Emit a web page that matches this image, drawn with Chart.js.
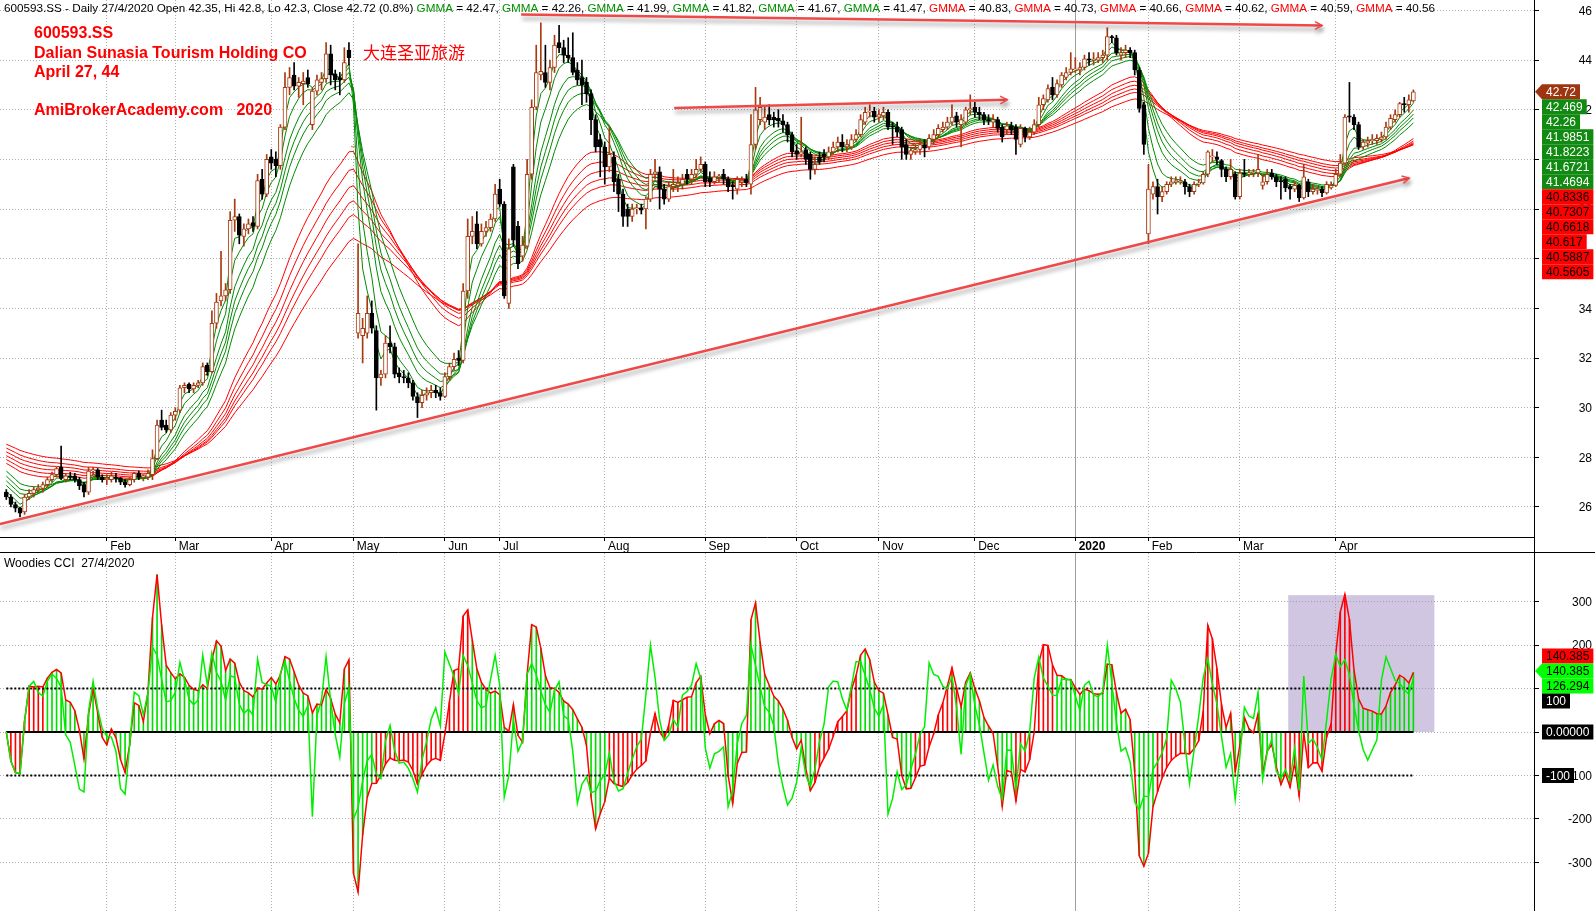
<!DOCTYPE html>
<html>
<head>
<meta charset="utf-8">
<script src="https://cdn.jsdelivr.net/npm/chart.js@4.4.1/dist/chart.umd.min.js"></script>
<style>
  body { margin: 0; background: #fff; }
  canvas { display: block; }
</style>
</head>
<body>
<canvas id="price" width="1595" height="553"></canvas>
<canvas id="cci" width="1595" height="358"></canvas>
<script>
// 600593.SS daily bars, Jan 2019 .. 27 Apr 2020
var opens = [
  26.6,26.4,26.1,25.95,25.8,26.4,26.55,26.7,26.75,26.9,27.1,27.3,27.6,27.1,27.25,27.25,27.1,26.9,26.6,27.45,27.5,27.2,
  27.1,27.1,27.2,27.15,27.0,26.9,27.1,27.35,27.2,27.2,27.3,27.95,29.5,29.3,29.1,
  29.7,29.9,30.8,30.95,30.75,30.9,31.0,31.7,31.45,33.4,34.3,34.5,34.75,37.55,37.7,36.9,37.2,37.45,37.3,39.2,38.6,
  40.1,40.0,39.75,41.3,42.9,43.4,42.95,43.05,43.3,41.4,42.75,43.1,43.25,44.25,43.45,43.3,43.2,44.4,
  40.5,33.0,32.9,33.0,33.8,33.1,31.2,31.35,32.6,32.45,31.4,31.25,31.2,31.0,30.45,30.2,30.5,30.6,30.7,30.6,
  30.45,31.25,31.65,32.0,31.9,34.7,36.9,37.4,36.6,37.1,37.25,37.6,
  38.8,38.2,34.2,39.7,37.3,36.1,36.5,39.4,42.1,43.4,43.5,43.1,43.7,44.7,44.5,44.2,44.1,43.6,43.3,43.1,42.65,41.6,40.8,
  40.5,39.7,40.1,39.2,38.6,38.0,37.7,38.0,38.05,38.0,38.4,39.4,39.5,38.8,38.4,38.9,38.95,39.0,39.4,39.2,39.4,39.6,
  39.8,39.25,39.1,39.3,39.4,39.2,38.95,38.8,39.1,39.2,39.0,40.6,41.6,41.5,41.8,41.7,41.65,41.55,41.4,41.0,
  40.35,40.2,40.4,40.2,39.6,40.1,40.2,40.1,40.3,40.5,40.7,40.5,40.5,40.8,41.0,41.5,41.9,41.95,
  41.7,41.75,41.9,41.35,41.3,41.2,40.6,40.2,40.3,40.4,40.6,40.5,40.8,41.0,41.2,41.3,41.5,41.75,41.4,41.5,42.0,
  42.1,41.9,41.8,41.6,41.5,41.6,41.3,41.2,41.35,41.3,40.6,41.25,40.9,41.1,41.4,42.2,42.4,42.9,42.6,43.0,43.3,43.5,
  43.6,43.6,43.7,44.05,44.0,44.0,44.1,44.2,44.95,44.9,44.2,44.3,44.4,44.3,43.6,42.2,
  37.0,38.6,38.9,38.5,38.7,39.0,39.1,39.1,39.1,38.9,38.7,39.0,39.05,39.4,40.1,40.1,39.95,39.6,39.3,39.4,
  38.5,39.45,39.4,39.45,39.45,38.95,39.1,39.45,39.3,39.15,39.2,38.9,38.8,38.95,38.45,39.1,38.7,38.75,38.8,38.65,38.85,
  38.95,39.4,39.85,41.75,41.7,41.4,40.5,40.65,40.75,40.75,40.8,40.9,41.3,41.6,41.8,42.25,42.2,42.35
];
var highs = [
  26.7,26.5,26.2,26.0,26.5,26.7,26.8,26.9,27.0,27.2,27.4,27.6,28.45,27.35,27.4,27.35,27.2,27.0,27.6,27.6,27.55,27.3,
  27.3,27.4,27.35,27.2,27.1,27.2,27.4,27.45,27.3,27.5,28.3,29.5,29.9,29.5,29.8,
  30.0,30.9,31.0,31.0,31.0,31.1,31.8,31.8,33.9,34.6,36.3,35.0,37.9,38.4,37.8,37.4,37.6,37.7,39.4,39.6,40.2,
  40.4,40.3,41.4,43.5,43.7,43.9,43.3,43.5,43.6,42.9,43.4,43.5,44.7,44.6,43.6,43.5,44.5,44.7,
  40.5,36.6,33.6,34.5,34.3,33.3,31.5,32.9,33.3,32.6,31.6,31.5,31.4,31.1,30.6,30.7,30.8,30.9,30.9,30.8,
  31.4,31.8,32.2,32.3,35.0,37.6,37.7,37.9,37.4,37.5,37.8,39.0,
  39.2,38.3,36.8,39.8,37.5,36.9,40.0,42.4,44.6,45.5,44.6,44.0,45.0,45.4,44.8,44.9,45.1,43.9,44.0,43.3,42.8,41.8,41.0,
  40.7,41.3,40.3,39.4,38.8,38.2,38.2,38.2,38.2,38.5,39.6,40.0,39.7,39.0,39.1,39.6,39.3,39.4,39.6,39.6,40.0,40.1,
  39.9,39.5,39.5,39.4,39.6,39.3,39.1,39.3,39.3,39.4,41.8,42.9,42.5,42.1,42.2,41.9,42.0,41.8,41.5,41.1,
  40.6,41.7,40.5,40.3,40.1,40.3,40.4,40.5,40.7,40.9,41.0,40.8,41.0,41.2,41.8,42.1,42.2,42.1,
  42.0,42.1,42.0,41.5,41.5,41.3,40.8,40.5,40.6,40.8,40.8,41.0,41.2,41.4,41.5,41.7,42.2,41.9,41.8,42.1,42.6,
  42.3,42.1,41.9,41.8,41.8,41.7,41.4,41.5,41.5,41.4,41.4,41.3,41.3,41.6,42.5,42.6,43.0,43.3,43.2,43.5,43.7,44.3,
  44.1,43.9,44.2,44.3,44.3,44.3,44.4,45.3,45.0,45.0,44.5,44.6,44.5,44.4,43.7,42.3,
  39.8,39.1,39.2,38.9,39.1,39.3,39.3,39.3,39.2,39.0,39.1,39.2,39.5,40.35,40.4,40.3,40.0,39.7,40.0,39.5,
  39.6,40.0,39.6,39.6,40.2,39.4,39.6,39.6,39.4,39.3,39.3,39.0,39.1,39.0,39.8,39.2,39.0,38.9,38.9,39.1,39.1,
  39.6,40.2,41.8,43.1,41.8,41.5,40.8,40.9,41.0,41.0,41.1,41.5,41.8,42.0,42.3,42.5,42.6,42.8
];
var lows = [
  26.3,26.0,25.8,25.6,25.7,26.3,26.4,26.6,26.6,26.8,27.0,27.2,27.1,27.0,27.1,27.0,26.7,26.4,26.5,27.3,27.1,27.0,
  26.9,27.0,27.0,26.9,26.8,26.85,27.0,27.1,27.05,27.1,27.1,27.9,29.1,29.0,29.0,
  29.5,29.8,30.6,30.6,30.6,30.8,30.9,31.3,31.4,33.2,34.1,34.3,34.6,37.1,36.6,36.5,37.0,37.1,37.2,38.4,38.5,
  39.6,39.3,39.6,41.2,42.6,42.8,42.5,42.2,42.9,41.2,42.6,42.8,43.1,43.0,42.8,42.6,43.1,43.8,
  40.5,32.8,31.8,32.8,33.0,29.9,30.9,31.2,32.2,31.2,31.0,31.0,30.8,30.3,29.6,30.0,30.3,30.4,30.4,30.3,
  30.4,31.1,31.5,31.7,31.8,34.4,36.6,36.4,36.5,36.9,37.1,37.5,
  38.1,34.4,34.0,36.5,35.6,35.9,36.4,39.2,42.0,43.2,42.9,42.8,43.5,44.3,43.9,43.9,43.4,43.0,42.2,42.3,41.0,40.3,39.3,
  39.0,39.5,38.7,37.9,37.3,37.3,37.5,37.8,37.8,37.2,38.3,39.2,38.0,38.2,38.3,38.7,38.7,38.8,39.0,39.0,39.3,39.5,
  38.9,38.9,39.0,39.1,39.0,38.7,38.4,38.6,38.9,38.9,38.6,40.4,41.4,41.2,41.4,41.3,41.3,41.1,40.7,40.1,
  40.0,40.1,39.8,39.2,39.4,39.8,39.9,40.0,40.2,40.3,40.3,40.3,40.4,40.7,40.9,41.4,41.7,41.5,
  41.5,41.6,41.2,40.6,40.9,40.0,40.0,40.0,40.2,40.2,40.1,40.4,40.6,40.9,41.1,41.2,41.4,41.3,40.5,41.4,41.8,
  41.7,41.6,41.4,41.4,41.3,41.1,40.7,41.0,41.0,40.2,40.5,40.7,40.8,41.0,41.3,42.0,42.3,42.4,42.5,42.9,43.2,43.4,
  43.5,43.4,43.6,43.8,43.8,43.9,43.9,44.0,44.7,44.2,44.0,44.1,44.1,43.4,41.9,40.2,
  36.6,38.4,37.8,38.3,38.6,38.9,39.0,39.0,38.6,38.5,38.6,38.9,39.0,39.3,39.9,39.8,39.3,39.1,39.2,38.4,
  38.4,39.3,39.3,39.3,39.3,38.8,39.0,39.2,38.9,38.4,38.7,38.4,38.7,38.3,38.4,38.5,38.6,38.6,38.5,38.6,38.8,
  38.9,39.3,39.8,41.5,41.2,40.4,40.4,40.5,40.6,40.6,40.7,40.8,41.2,41.5,41.7,41.9,41.9,42.3
];
var closes = [
  26.4,26.1,25.95,25.75,26.4,26.55,26.7,26.75,26.9,27.1,27.3,27.55,27.15,27.25,27.2,27.1,26.85,26.6,27.45,27.5,27.2,27.1,
  27.15,27.25,27.15,27.0,26.9,27.1,27.35,27.2,27.2,27.35,27.95,29.3,29.2,29.1,29.7,
  29.85,30.8,30.9,30.75,30.9,31.0,31.65,31.45,33.4,34.25,34.5,34.75,37.55,37.7,36.95,37.2,37.4,37.3,39.15,38.6,40.0,
  39.85,39.75,41.3,42.9,43.3,42.95,43.1,43.15,43.05,42.75,43.2,43.25,44.25,43.4,43.2,43.2,43.9,44.1,
  40.5,33.8,33.2,33.8,33.2,31.2,31.35,32.6,32.45,31.35,31.25,31.2,31.0,30.45,30.2,30.5,30.6,30.7,30.6,30.45,
  31.25,31.65,31.95,31.9,34.7,36.9,37.1,36.6,37.1,37.25,37.6,38.6,
  38.2,34.5,36.4,36.75,35.8,36.55,39.4,42.1,43.5,43.55,43.1,43.7,44.6,44.5,44.2,44.1,43.5,43.2,43.0,42.65,41.6,40.5,40.5,
  39.7,40.2,39.1,38.6,37.7,37.7,38.0,38.05,37.95,38.4,39.4,39.5,38.8,38.4,38.9,39.0,39.05,39.2,39.2,39.4,39.6,39.8,
  39.1,39.1,39.3,39.3,39.2,38.9,38.9,39.2,39.15,39.05,40.6,42.0,42.1,41.7,41.6,41.6,41.55,41.4,41.0,40.3,
  40.2,40.3,40.0,39.6,39.8,39.9,40.1,40.3,40.5,40.7,40.5,40.6,40.8,41.0,41.6,41.9,41.95,41.7,
  41.8,41.9,41.3,41.3,41.1,40.5,40.2,40.35,40.4,40.6,40.45,40.85,41.0,41.25,41.3,41.5,41.7,41.5,41.6,42.0,42.05,
  41.9,41.8,41.6,41.55,41.6,41.25,40.9,41.35,41.2,40.8,41.25,40.9,41.1,41.4,42.2,42.45,42.85,42.6,43.05,43.4,43.5,43.65,
  43.65,43.7,44.05,44.0,44.05,44.1,44.2,44.95,44.9,44.3,44.3,44.4,44.3,43.6,42.05,40.6,
  38.8,38.9,38.5,38.7,39.0,39.1,39.15,39.1,38.9,38.7,39.0,39.05,39.4,40.3,40.1,40.0,39.6,39.3,39.6,38.5,
  39.45,39.4,39.45,39.45,39.6,39.1,39.4,39.3,39.1,39.1,38.85,38.8,38.95,38.45,39.3,38.7,38.8,38.8,38.65,39.0,38.95,
  39.4,39.85,41.7,41.7,41.4,40.5,40.7,40.75,40.8,40.85,40.9,41.3,41.65,41.8,42.25,42.2,42.4,42.72
];

// month boundaries (bar index) and axis labels
var monthStarts = [22, 37, 58, 76, 96, 108, 131, 153, 173, 191, 212, 234, 250, 270, 291];
var monthLabels = ['Feb','Mar','Apr','May','Jun','Jul','Aug','Sep','Oct','Nov','Dec','2020','Feb','Mar','Apr'];
var priceTicks = [26, 28, 30, 32, 34, 36, 38, 40, 42, 44, 46];
var cciTicks = [-300, -200, -100, 0, 100, 200, 300];

// GMMA: short (green) and long (red) EMA periods, with their level at the left edge
var shortPeriods = [3, 5, 8, 10, 12, 15];
var longPeriods = [30, 35, 40, 45, 50, 60];
var shortStart = [26.55, 26.75, 27.0, 27.2, 27.4, 27.6];
var longStart = [27.85, 28.0, 28.15, 28.3, 28.45, 28.6];
var gmmaHeader = ['42.47','42.26','41.99','41.82','41.67','41.47','40.83','40.73','40.66','40.62','40.59','40.56'];
var gmmaLabels = ['42.469','42.26','41.9851','41.8223','41.6721','41.4694','40.8336','40.7307','40.6618','40.617','40.5887','40.5605'];

// Woodies CCI
var cciPeriod = 14, turboPeriod = 6;
var cciLevels = [100, 0, -100];
var cciLabelValues = [140.385, 140.385, 126.294];

// hand drawn trend lines: [bar, price, bar, price]
var trendLines = [
  [-1.4, 25.31, 307.1, 39.25],
  [112.7, 45.84, 288, 45.39],
  [146.2, 42.07, 219.1, 42.40]
];
// highlight box in the CCI pane: [bar from, bar to, cci from, cci to]
var cciBox = [280.6, 312.6, 0, 315];

var FONT = '"Liberation Sans", Arial, sans-serif';
var UP = '#a83a10', DOWN = '#000000';
var lastBar = closes.length - 1;
var xMin = -1.38, xMax = 334.4;

function ema(period, start) {
  var k = 2 / (period + 1), v = start, out = [];
  closes.forEach(function(c, i) { v = v + k * (c - v); out.push({x: i, y: v}); });
  return out;
}

function cci(n) {
  var tp = closes.map(function(c, i) { return (highs[i] + lows[i] + c) / 3; });
  return tp.map(function(v, i) {
    var w = tp.slice(Math.max(0, i - n + 1), i + 1);
    var m = w.reduce(function(a, b) { return a + b; }, 0) / w.length;
    var md = w.reduce(function(a, b) { return a + Math.abs(b - m); }, 0) / w.length;
    return md ? (v - m) / (0.015 * md) : 0;
  });
}

var cciMain = cci(cciPeriod);
var cciTurbo = cci(turboPeriod);

// histogram colour: trend flips after 6 bars on the other side of zero
var histColors = [], trend = '#ff0000', above = 0, below = 0;
cciMain.forEach(function(v) {
  if (v > 0) { above++; below = 0; } else { below++; above = 0; }
  if (above >= 6) trend = '#00e000';
  if (below >= 6) trend = '#ff0000';
  histColors.push(trend);
});

var isUp = closes.map(function(c, i) { return c >= opens[i]; });

function fixWidth(w) {
  return function(s) { s.width = w; s.paddingTop = 0; s.paddingBottom = 0; };
}
function fixHeight(h) {
  return function(s) { s.height = h; s.paddingLeft = 0; s.paddingRight = 0; };
}

// right axis numbers, right aligned against the window edge
function axisLabels(chart, values) {
  var ctx = chart.ctx, ys = chart.scales.y;
  ctx.save();
  ctx.font = '12px ' + FONT;
  ctx.fillStyle = '#000';
  ctx.textAlign = 'right';
  ctx.textBaseline = 'middle';
  values.forEach(function(v) { ctx.fillText(String(v), 1592, ys.getPixelForValue(v) + 1); });
  ctx.restore();
}

function labelBox(ctx, text, y, fill, color, arrow) {
  ctx.font = '12px ' + FONT;
  var x = 1542, w = ctx.measureText(text).width + 8, h = 15;
  ctx.fillStyle = fill;
  ctx.beginPath();
  if (arrow) {
    ctx.moveTo(1535, y);
    ctx.lineTo(x, y - h / 2);
    ctx.lineTo(x + w, y - h / 2);
    ctx.lineTo(x + w, y + h / 2);
    ctx.lineTo(x, y + h / 2);
    ctx.closePath();
  } else {
    ctx.rect(x, y - h / 2, w, h);
  }
  ctx.fill();
  ctx.fillStyle = color;
  ctx.textAlign = 'left';
  ctx.textBaseline = 'middle';
  ctx.fillText(text, x + 4, y + 1);
}

function draw2020Line(chart) {
  var ctx = chart.ctx, a = chart.chartArea;
  var x = Math.round(chart.scales.x.getPixelForValue(monthStarts[11])) + 0.5;
  ctx.save();
  ctx.strokeStyle = '#a0a0a0';
  ctx.lineWidth = 1;
  ctx.beginPath();
  ctx.moveTo(x, a.top);
  ctx.lineTo(x, a.bottom);
  ctx.stroke();
  ctx.restore();
}

var priceDecor = {
  id: 'priceDecor',
  beforeDatasetsDraw: function(chart) { draw2020Line(chart); },
  afterDatasetsDraw: function(chart) {
    var ctx = chart.ctx, xs = chart.scales.x, ys = chart.scales.y, a = chart.chartArea;
    ctx.save();
    ctx.beginPath();
    ctx.rect(a.left, a.top, a.right - a.left, a.bottom - a.top);
    ctx.clip();
    trendLines.forEach(function(t) {
      var x1 = xs.getPixelForValue(t[0]), y1 = ys.getPixelForValue(t[1]);
      var x2 = xs.getPixelForValue(t[2]), y2 = ys.getPixelForValue(t[3]);
      ctx.shadowColor = 'rgba(0,0,0,0.35)';
      ctx.shadowBlur = 4;
      ctx.shadowOffsetX = 1;
      ctx.shadowOffsetY = 4;
      ctx.strokeStyle = '#ee4848';
      ctx.lineWidth = 2.5;
      ctx.beginPath();
      ctx.moveTo(x1, y1);
      ctx.lineTo(x2, y2);
      ctx.stroke();
      var ang = Math.atan2(y2 - y1, x2 - x1);
      ctx.lineWidth = 1.5;
      ctx.beginPath();
      ctx.moveTo(x2 - 8 * Math.cos(ang - 0.5), y2 - 8 * Math.sin(ang - 0.5));
      ctx.lineTo(x2, y2);
      ctx.lineTo(x2 - 8 * Math.cos(ang + 0.5), y2 - 8 * Math.sin(ang + 0.5));
      ctx.stroke();
    });
    ctx.restore();
  },
  afterDraw: function(chart) {
    var ctx = chart.ctx, a = chart.chartArea, ys = chart.scales.y;
    axisLabels(chart, priceTicks);
    ctx.save();

    // header line
    ctx.font = '11.7px ' + FONT;
    ctx.textBaseline = 'middle';
    ctx.textAlign = 'left';
    var x = 4;
    function seg(t, c) { ctx.fillStyle = c; ctx.fillText(t, x, 9); x += ctx.measureText(t).width; }
    seg('600593.SS - Daily 27/4/2020 Open 42.35, Hi 42.8, Lo 42.3, Close 42.72 (0.8%) ', '#000');
    gmmaHeader.forEach(function(v, k) {
      seg('GMMA', k < 6 ? '#009000' : '#ff0000');
      seg(' = ' + v + (k < gmmaHeader.length - 1 ? ', ' : ''), '#000');
    });

    // red titles
    ctx.fillStyle = '#ff0000';
    ctx.font = 'bold 16px ' + FONT;
    ctx.fillText('600593.SS', 34, 33.5);
    ctx.fillText('Dalian Sunasia Tourism Holding CO', 34, 53.5);
    ctx.fillText('April 27, 44', 34, 72.5);
    ctx.fillText('AmiBrokerAcademy.com   2020', 34, 110.5);
    ctx.font = '17px "Noto Sans CJK SC", sans-serif';
    ctx.fillText('大连圣亚旅游', 363, 53);

    // right side value labels
    var yp = ys.getPixelForValue(closes[lastBar]);
    labelBox(ctx, closes[lastBar].toFixed(2), yp, '#9e3510', '#fff', true);
    gmmaLabels.forEach(function(t, k) {
      var y = yp + 15 + k * 15;
      if (k < 6) labelBox(ctx, t, y, '#118a11', '#fff', false);
      else labelBox(ctx, t, y, '#ff0000', '#000', false);
    });

    // frame lines of the date band
    ctx.strokeStyle = '#000';
    ctx.lineWidth = 1;
    ctx.beginPath();
    ctx.moveTo(0, chart.height - 0.5);
    ctx.lineTo(chart.width, chart.height - 0.5);
    ctx.moveTo(a.right + 0.5, a.bottom);
    ctx.lineTo(a.right + 0.5, chart.height);
    ctx.stroke();
    ctx.restore();
  }
};

var cciDecor = {
  id: 'cciDecor',
  beforeDatasetsDraw: function(chart) {
    var ctx = chart.ctx, xs = chart.scales.x, ys = chart.scales.y;
    draw2020Line(chart);
    var x1 = xs.getPixelForValue(cciBox[0]), x2 = xs.getPixelForValue(cciBox[1]);
    var y1 = ys.getPixelForValue(cciBox[3]), y2 = ys.getPixelForValue(cciBox[2]);
    ctx.save();
    ctx.fillStyle = 'rgba(150,128,190,0.45)';
    ctx.fillRect(x1, y1, x2 - x1, y2 - y1);
    ctx.restore();
  },
  afterDraw: function(chart) {
    var ctx = chart.ctx, ys = chart.scales.y;
    axisLabels(chart, cciTicks);
    ctx.save();
    ctx.font = '12px ' + FONT;
    ctx.fillStyle = '#000';
    ctx.textBaseline = 'middle';
    ctx.textAlign = 'left';
    ctx.fillText('Woodies CCI  27/4/2020', 4, 10.5);

    var yc = ys.getPixelForValue(cciLabelValues[1]);
    labelBox(ctx, cciLabelValues[0].toFixed(3), yc - 15, '#ff0000', '#000', false);
    labelBox(ctx, cciLabelValues[1].toFixed(3), yc, '#00ff00', '#000', true);
    labelBox(ctx, cciLabelValues[2].toFixed(3), yc + 15, '#00ff00', '#000', false);
    labelBox(ctx, String(cciLevels[0]), yc + 30, '#000', '#fff', false);
    labelBox(ctx, cciLevels[1].toFixed(5), ys.getPixelForValue(cciLevels[1]), '#000', '#fff', false);
    labelBox(ctx, String(cciLevels[2]), ys.getPixelForValue(cciLevels[2]), '#000', '#fff', false);
    ctx.restore();
  }
};

var gridX = {
  color: '#b0b0b0',
  lineWidth: 1,
  drawTicks: true,
  tickLength: 4,
  tickColor: '#000',
  offset: false
};

// ---------- price pane ----------
var priceSets = [];
priceSets.push({
  type: 'bar', label: 'body', order: 0,
  data: opens.map(function(o, i) { return {x: i, y: [o, closes[i]]}; }),
  backgroundColor: isUp.map(function(u) { return u ? '#ffffff' : DOWN; }),
  borderColor: isUp.map(function(u) { return u ? UP : DOWN; }),
  borderWidth: 1, borderSkipped: false, barThickness: 4, minBarLength: 1, grouped: false
});
priceSets.push({
  type: 'bar', label: 'wick', order: 1,
  data: lows.map(function(l, i) { return {x: i, y: [l, highs[i]]}; }),
  backgroundColor: isUp.map(function(u) { return u ? UP : DOWN; }),
  borderWidth: 0, barThickness: 1, grouped: false
});
shortPeriods.forEach(function(p, k) {
  priceSets.push({ type: 'line', label: 'GMMA ' + p, order: 2, data: ema(p, shortStart[k]),
    borderColor: '#008a00', borderWidth: 1, pointRadius: 0, tension: 0, fill: false });
});
longPeriods.forEach(function(p, k) {
  priceSets.push({ type: 'line', label: 'GMMA ' + p, order: 3, data: ema(p, longStart[k]),
    borderColor: '#ff0000', borderWidth: 1, pointRadius: 0, tension: 0, fill: false });
});

new Chart(document.getElementById('price'), {
  type: 'bar',
  data: { datasets: priceSets },
  options: {
    responsive: false,
    animation: false,
    devicePixelRatio: 1,
    layout: { padding: 0 },
    plugins: { legend: { display: false }, tooltip: { enabled: false } },
    scales: {
      x: {
        type: 'linear', min: xMin, max: xMax, offset: false,
        grid: gridX,
        border: { display: true, color: '#000', width: 1, dash: [1, 2] },
        ticks: {
          autoSkip: false, maxRotation: 0, align: 'start', padding: -2, color: '#000',
          font: function(c) {
            return { size: 12, family: FONT, weight: c.tick && c.tick.value === monthStarts[11] ? 'bold' : 'normal' };
          },
          callback: function(v) { var k = monthStarts.indexOf(v); return k < 0 ? '' : ' ' + monthLabels[k]; }
        },
        afterBuildTicks: function(s) { s.ticks = monthStarts.map(function(v) { return {value: v}; }); },
        afterFit: fixHeight(16)
      },
      y: {
        position: 'right', min: 24.79, max: 46.42,
        grid: { color: '#b0b0b0', tickLength: 5, tickColor: '#000' },
        border: { display: true, color: '#000', width: 1, dash: [1, 2] },
        ticks: { display: false },
        afterBuildTicks: function(s) { s.ticks = priceTicks.map(function(v) { return {value: v}; }); },
        afterFit: fixWidth(61)
      }
    }
  },
  plugins: [priceDecor]
});

// ---------- CCI pane ----------
var cciSets = [];
cciSets.push({
  type: 'line', label: 'Turbo CCI', order: 0,
  data: cciTurbo.map(function(v, i) { return {x: i, y: v}; }),
  borderColor: '#00ee00', borderWidth: 1.5, pointRadius: 0, tension: 0, fill: false
});
cciSets.push({
  type: 'line', label: 'CCI', order: 1,
  data: cciMain.map(function(v, i) { return {x: i, y: v}; }),
  borderColor: '#ff0000', borderWidth: 1.5, pointRadius: 0, tension: 0, fill: false
});
cciLevels.forEach(function(l) {
  cciSets.push({
    type: 'line', label: 'level ' + l, order: 2,
    data: [{x: 0, y: l}, {x: lastBar, y: l}],
    borderColor: '#000', borderWidth: 2, borderDash: l === 0 ? [] : [2, 2],
    pointRadius: 0, fill: false
  });
});
cciSets.push({
  type: 'bar', label: 'CCI histogram', order: 3,
  data: cciMain.map(function(v, i) { return {x: i, y: v}; }),
  backgroundColor: histColors, borderWidth: 0, barThickness: 1, grouped: false
});

new Chart(document.getElementById('cci'), {
  type: 'bar',
  data: { datasets: cciSets },
  options: {
    responsive: false,
    animation: false,
    devicePixelRatio: 1,
    layout: { padding: 0 },
    plugins: { legend: { display: false }, tooltip: { enabled: false } },
    scales: {
      x: {
        type: 'linear', min: xMin, max: xMax, offset: false,
        grid: { color: '#b0b0b0', drawTicks: false, offset: false },
        border: { display: false, dash: [1, 2] },
        ticks: { display: false },
        afterBuildTicks: function(s) { s.ticks = monthStarts.map(function(v) { return {value: v}; }); },
        afterFit: fixHeight(0)
      },
      y: {
        position: 'right', min: -412, max: 412,
        grid: { color: '#b0b0b0', tickLength: 5, tickColor: '#000' },
        border: { display: true, color: '#000', width: 1, dash: [1, 2] },
        ticks: { display: false },
        afterBuildTicks: function(s) { s.ticks = cciTicks.map(function(v) { return {value: v}; }); },
        afterFit: fixWidth(61)
      }
    }
  },
  plugins: [cciDecor]
});
</script>
</body>
</html>
